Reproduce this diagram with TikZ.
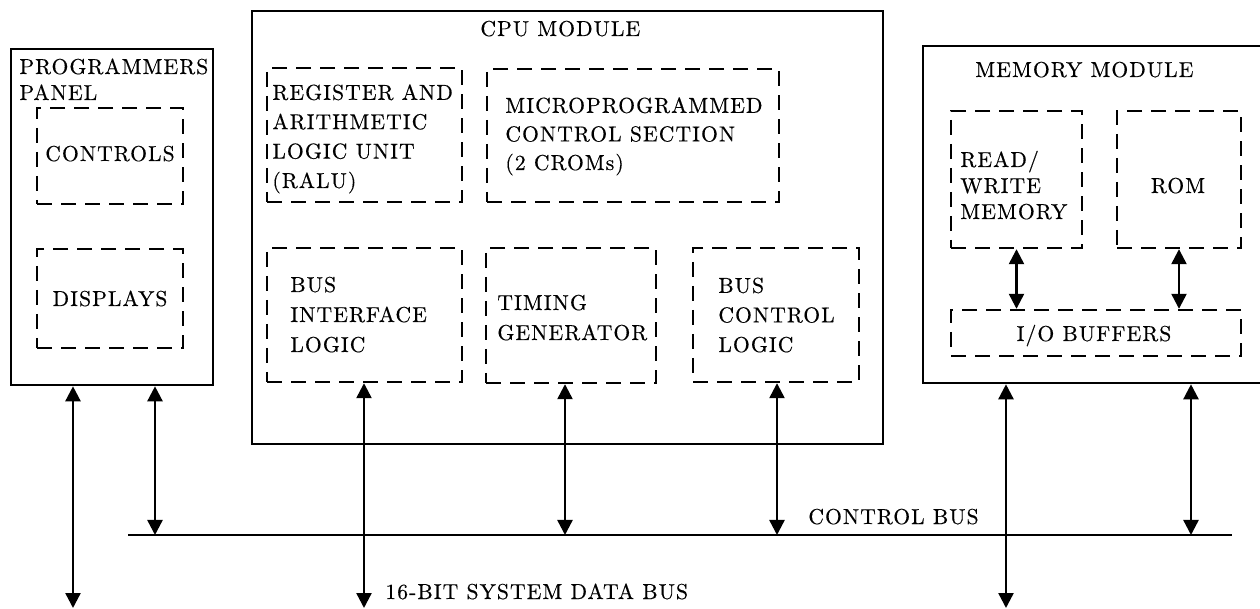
\documentclass[tikz,border=0pt]{standalone}
\usepackage{fontspec}
\setmainfont{Latin Modern Roman}[LetterSpace=5,FakeBold=0.4]
\usetikzlibrary{arrows.meta,fit}
\begin{document}
\begin{tikzpicture}[x=0.5pt,y=-0.5pt,
  solidbox/.style={draw,line width=1.3pt,inner sep=0pt},
  dashbox/.style={draw,line width=1.2pt,dash pattern=on 7.5pt off 4.5pt,inner sep=0pt},
  lbl/.style={anchor=base west,inner sep=0pt,align=left,font=\fontsize{10.8}{#1}\selectfont},
  lbl/.default=14.5pt,
  clbl/.style={anchor=base,inner sep=0pt,font=\fontsize{10.8}{14.5}\selectfont},
  link/.style={line width=1.2pt,{Triangle[length=7.5pt,width=7.5pt]}-{Triangle[length=7.5pt,width=7.5pt]}},
  bus/.style={line width=1.3pt}]
\useasboundingbox (0,0) rectangle (1260,609);
\clip (0,0) rectangle (1260,609);

% programmers panel
\node[solidbox,fit={(11,49)(213,385)}] (panel) {};
\node[lbl=13pt] (panelT) at (19,100) {PROGRAMMERS\\PANEL};
\node[dashbox,fit={(37,108)(183,204)}] (ctrl) {};
\node[clbl] (ctrlT) at (110,161) {CONTROLS};
\node[dashbox,fit={(37,249)(183,348)}] (disp) {};
\node[clbl] (dispT) at (110,306) {DISPLAYS};

% CPU module
\node[solidbox,fit={(252,11)(883,444)}] (cpu) {};
\node[lbl] (cpuT) at (480,36) {CPU MODULE};
\node[dashbox,fit={(267,68)(462,202)}] (ralu) {};
\node[lbl=14.7pt] (raluT) at (272,188) {REGISTER AND\\ARITHMETIC\\LOGIC UNIT\\(RALU)};
\node[dashbox,fit={(487,69)(779,202)}] (mcs) {};
\node[lbl=14.3pt] (mcsT) at (505,170) {MICROPROGRAMMED\\CONTROL SECTION\\(2 CROMs)};
\node[dashbox,fit={(267,248)(462,382)}] (bil) {};
\node[lbl=15pt] (bilT) at (290,352) {BUS\\INTERFACE\\LOGIC};
\node[dashbox,fit={(486,248)(656,383)}] (tg) {};
\node[lbl=15pt] (tgT) at (497,340) {TIMING\\GENERATOR};
\node[dashbox,fit={(693,248)(859,382)}] (bcl) {};
\node[lbl=14.8pt] (bclT) at (718,352) {BUS\\CONTROL\\LOGIC};

% memory module
\node[solidbox,fit={(923,46)(1280,383)}] (mem) {};
\node[lbl] (memT) at (975,77) {MEMORY MODULE};
\node[dashbox,fit={(951,111)(1082,248)}] (rw) {};
\node[lbl=13pt] (rwT) at (960,219) {READ/\\WRITE\\MEMORY};
\node[dashbox,fit={(1117,111)(1241,248)}] (rom) {};
\node[clbl] (romT) at (1178,193) {ROM};
\node[dashbox,fit={(951,310)(1241,356)}] (iob) {};
\node[clbl] (iobT) at (1094,341) {I/O BUFFERS};

% buses
\coordinate (cbL) at (128,535);
\coordinate (cbR) at (1232,535);
\draw[bus] (cbL) -- (cbR);
\node[lbl] (cbT) at (808,524) {CONTROL BUS};
\node[lbl] (dbT) at (385,599) {16-BIT SYSTEM DATA BUS};

\coordinate (d1) at (73,608);
\coordinate (d2) at (364,608);
\coordinate (d3) at (1006,608);
\coordinate (c1) at (155,535);
\coordinate (c2) at (565,535);
\coordinate (c3) at (777,535);
\coordinate (c4) at (1191,535);

% connections
\draw[link] (panel.south -| d1) -- (d1);
\draw[link] (panel.south -| c1) -- (c1);
\draw[link] (bil.south -| d2) -- (d2);
\draw[link] (tg.south -| c2) -- (c2);
\draw[link] (bcl.south -| c3) -- (c3);
\draw[link] (mem.south -| d3) -- (d3);
\draw[link] (mem.south -| c4) -- (c4);
\draw[link] (rw.south) -- (iob.north -| rw.south);
\draw[link] (rom.south) -- (iob.north -| rom.south);
\end{tikzpicture}
\end{document}
